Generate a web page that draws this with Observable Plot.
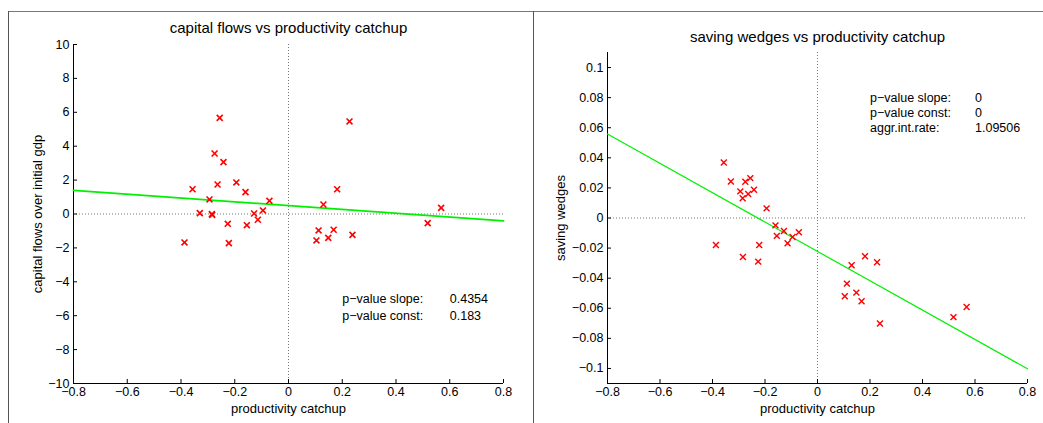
<!DOCTYPE html>
<html><head><meta charset="utf-8">
<script src="https://cdn.jsdelivr.net/npm/d3@7"></script>
<script src="https://cdn.jsdelivr.net/npm/@observablehq/plot@0.6"></script>
<style>
body{margin:0;background:#fff;font-family:"Liberation Sans",Arial,sans-serif;}
#wrap{position:relative;width:1043px;height:423px;overflow:hidden;background:#fff;}
.panel{position:absolute;top:0;z-index:1;}
.vline{position:absolute;width:0;border-left:1px solid #555;z-index:2;}
.hline{position:absolute;height:0;border-top:1px solid #777;z-index:2;}
</style></head><body>
<div id="wrap">
  <div id="left" class="panel" style="left:0"></div>
  <div id="right" class="panel" style="left:520px"></div>
  <div class="hline" style="left:8px;top:11px;width:1035px"></div>
  <div class="vline" style="left:8px;top:11px;height:412px"></div>
  <div class="vline" style="left:533px;top:11px;height:412px"></div>
</div>
<script>
// ---- data ----
const catchup = [-0.256, -0.275, -0.242, -0.357, -0.264, -0.194, -0.160, -0.294, -0.071, -0.330,
  -0.285, -0.284, -0.128, -0.095, -0.226, -0.155, -0.114, -0.387, -0.222,
  0.227, 0.181, 0.130, 0.112, 0.104, 0.148, 0.168, 0.238, 0.518, 0.568];
const capitalFlows = [5.67, 3.57, 3.06, 1.46, 1.74, 1.86, 1.29, 0.86, 0.78, 0.05,
  0.00, -0.06, 0.03, 0.21, -0.58, -0.66, -0.34, -1.68, -1.72,
  5.46, 1.46, 0.56, -0.97, -1.56, -1.41, -0.93, -1.23, -0.54, 0.36];
const savingWedges = [0.0265, 0.0241, 0.0188, 0.0369, 0.0159, 0.0064, -0.0049, 0.0177, -0.0095, 0.0243,
  0.0131, -0.0259, -0.0086, -0.0126, -0.0290, -0.0119, -0.0168, -0.0179, -0.0179,
  -0.0294, -0.0254, -0.0314, -0.0436, -0.0520, -0.0496, -0.0553, -0.0701, -0.0659, -0.0591];

const fitRange = [-0.8, 0.8];
const cfFit = {intercept: 0.495, slope: -1.12};
const swFit = {intercept: -0.0222, slope: -0.0975};

const xTicks = [-0.8, -0.6, -0.4, -0.2, 0, 0.2, 0.4, 0.6, 0.8];
const xTickLabels = ["−0.8", "−0.6", "−0.4", "−0.2", "0", "0.2", "0.4", "0.6", "0.8"];
const cfTicks = [-10, -8, -6, -4, -2, 0, 2, 4, 6, 8, 10];
const cfTickLabels = ["−10", "−8", "−6", "−4", "−2", "0", "2", "4", "6", "8", "10"];
const swTicks = [-0.1, -0.08, -0.06, -0.04, -0.02, 0, 0.02, 0.04, 0.06, 0.08, 0.1];
const swTickLabels = ["−0.1", "−0.08", "−0.06", "−0.04", "−0.02", "0", "0.02", "0.04", "0.06", "0.08", "0.1"];

const cfStatLabels = ["p−value slope:", "p−value const:"];
const cfStatValues = ["0.4354", "0.183"];
const swStatLabels = ["p−value slope:", "p−value const:", "aggr.int.rate:"];
const swStatValues = ["0", "0", "1.09506"];

const titles = ["capital flows vs productivity catchup", "saving wedges vs productivity catchup"];
const xLabel = "productivity catchup";
const yLabels = ["capital flows over initial gdp", "saving wedges"];

// ---- drawing ----
function panel(o) {
  const pts = catchup.map((x, i) => ({x, y: o.yValues[i]}));
  return Plot.plot({
    width: o.width, height: 423,
    marginLeft: o.ml, marginRight: o.mr, marginTop: o.mt, marginBottom: 40,
    x: {domain: [-0.8, 0.8]},
    y: {domain: o.yDomain},
    style: {fontFamily: "'Liberation Sans', Arial, sans-serif", fontSize: "12px", color: "#000", background: "transparent", overflow: "visible"},
    marks: [
      Plot.ruleY([0], {stroke: "#777", strokeDasharray: "1,2"}),
      Plot.ruleX([0], {stroke: "#777", strokeDasharray: "1,2"}),
      Plot.ruleY([o.yDomain[0]], {stroke: "#000"}),
      Plot.ruleX([-0.8], {stroke: "#000"}),
      Plot.axisX({ticks: xTicks, tickFormat: d => xTickLabels[xTicks.indexOf(d)], tickSize: -4, tickPadding: 8, label: null, stroke: "#000", fontSize: 12.5}),
      Plot.axisY({ticks: o.yTicks, tickFormat: d => o.yTickLabels[o.yTicks.indexOf(d)], tickSize: -4, tickPadding: 8, label: null, stroke: "#000", fontSize: 12.5}),
      Plot.line(fitRange, {x: d => d, y: d => o.fit.intercept + o.fit.slope * d, stroke: "#00f000", strokeWidth: o.lw}),
      Plot.dot(pts, {x: "x", y: "y", symbol: "times", r: 2.8, stroke: "#ff0000", strokeWidth: o.mw}),
      Plot.text([o.title], {frameAnchor: "top", dy: o.titleDy, fontSize: 15, lineAnchor: "middle", textAnchor: "middle"}),
      Plot.text([xLabel], {frameAnchor: "bottom", dy: 25, fontSize: 13, lineAnchor: "middle", textAnchor: "middle"}),
      Plot.text([o.yLabel], {frameAnchor: "left", dx: o.yLabelDx, rotate: -90, fontSize: 13, lineAnchor: "middle", textAnchor: "middle"}),
      Plot.text(o.statLabels, {x: 0.2, y: (d, i) => o.statY0 + i * o.statStep, textAnchor: "start", fontSize: 12.5}),
      Plot.text(o.statValues, {x: 0.6, y: (d, i) => o.statY0 + i * o.statStep, textAnchor: "start", fontSize: 12.5})
    ]
  });
}

document.getElementById("left").append(panel({
  width: 520, ml: 73, mr: 17, mt: 44,
  yDomain: [-10, 10], yTicks: cfTicks, yTickLabels: cfTickLabels,
  yValues: capitalFlows, fit: cfFit, lw: 1.8, mw: 1.6,
  title: titles[0], titleDy: -16, yLabel: yLabels[0], yLabelDx: -35.5,
  statLabels: cfStatLabels, statValues: cfStatValues, statY0: -5, statStep: -1
}));
document.getElementById("right").append(panel({
  width: 523, ml: 87, mr: 16, mt: 52,
  yDomain: [-0.11, 0.11], yTicks: swTicks, yTickLabels: swTickLabels,
  yValues: savingWedges, fit: swFit, lw: 1.2, mw: 1.4,
  title: titles[1], titleDy: -15, yLabel: yLabels[1], yLabelDx: -46.5,
  statLabels: swStatLabels, statValues: swStatValues, statY0: 0.08, statStep: -0.01
}));
</script>
</body></html>
